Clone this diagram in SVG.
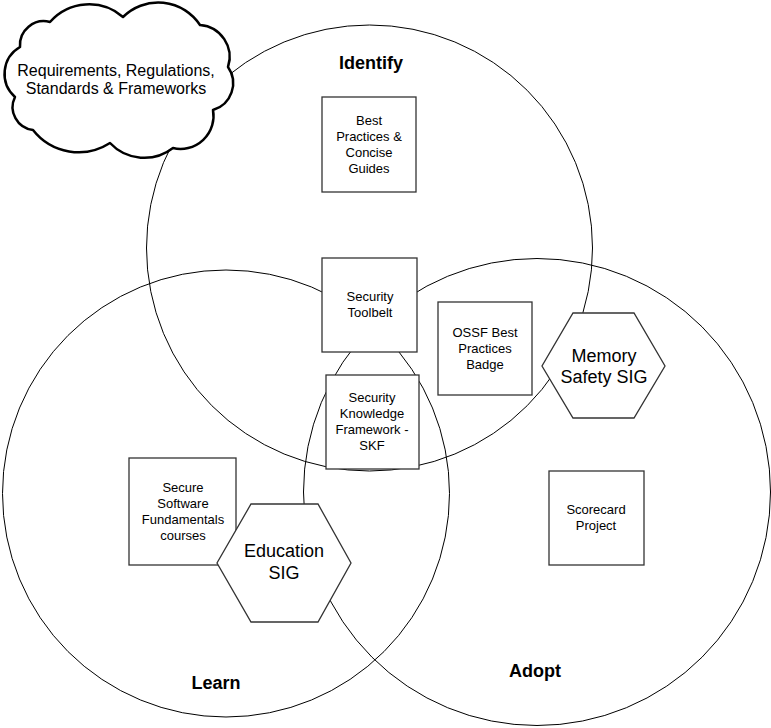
<svg xmlns="http://www.w3.org/2000/svg" width="771" height="728" viewBox="0 0 771 728">
<style>
  .ring { fill: none; stroke: #000; stroke-width: 1; }
  .box { fill: #fff; stroke: #333; stroke-width: 1.3; }
  .hex { fill: #fff; stroke: #333; stroke-width: 1.3; }
  .cloud { fill: #fff; stroke: #000; stroke-width: 2.5; stroke-linejoin: round; }
  text { font-family: "Liberation Sans", Arial, sans-serif; fill: #000; text-anchor: middle; }
  .small { font-size: 13px; }
  .mid { font-size: 18px; }
  .cl { font-size: 16px; }
  .title { font-size: 18px; font-weight: bold; }
</style>
<rect width="771" height="728" fill="#fff"/>
<g id="circle-identify">
  <circle class="ring" cx="369.5" cy="248" r="223"/>
  <text class="title" x="371" y="69">Identify</text>
</g>
<g id="circle-learn">
  <circle class="ring" cx="226" cy="493.5" r="223.5"/>
  <text class="title" x="216" y="689">Learn</text>
</g>
<g id="circle-adopt">
  <circle class="ring" cx="537" cy="492" r="233.5"/>
  <text class="title" x="535" y="677">Adopt</text>
</g>
<g id="connectors"></g>
<g id="cloud-requirements">
  <path class="cloud" d="M50,22 A52,52 0 0 1 123,17 A50,50 0 0 1 200,25 A32,32 0 0 1 228,67 A28,28 0 0 1 213,110 A33,33 0 0 1 173,148 A47,47 0 0 1 110,143 A58,58 0 0 1 33,130 A23,23 0 0 1 15,97 A31,31 0 0 1 20,47 A24,24 0 0 1 50,22 Z"/>
  <text class="cl" x="116" y="76">Requirements, Regulations,</text>
  <text class="cl" x="116" y="94">Standards &amp; Frameworks</text>
</g>
<g id="box-best-practices">
  <rect class="box" x="322" y="97" width="94" height="95"/>
  <text class="small" x="369" y="125">Best</text>
  <text class="small" x="369" y="141">Practices &amp;</text>
  <text class="small" x="369" y="157">Concise</text>
  <text class="small" x="369" y="173">Guides</text>
</g>
<g id="box-security-toolbelt">
  <rect class="box" x="322" y="258" width="95" height="94"/>
  <text class="small" x="370" y="301">Security</text>
  <text class="small" x="370" y="317">Toolbelt</text>
</g>
<g id="box-skf">
  <rect class="box" x="326" y="375" width="93" height="94"/>
  <text class="small" x="372" y="402">Security</text>
  <text class="small" x="372" y="418">Knowledge</text>
  <text class="small" x="372" y="434">Framework -</text>
  <text class="small" x="372" y="450">SKF</text>
</g>
<g id="box-ossf-badge">
  <rect class="box" x="438" y="302" width="94" height="93"/>
  <text class="small" x="485" y="337">OSSF Best</text>
  <text class="small" x="485" y="353">Practices</text>
  <text class="small" x="485" y="369">Badge</text>
</g>
<g id="box-secure-software">
  <rect class="box" x="129" y="458" width="107" height="107"/>
  <text class="small" x="183" y="492">Secure</text>
  <text class="small" x="183" y="508">Software</text>
  <text class="small" x="183" y="524">Fundamentals</text>
  <text class="small" x="183" y="540">courses</text>
</g>
<g id="box-scorecard">
  <rect class="box" x="549" y="471" width="95" height="94"/>
  <text class="small" x="596" y="514">Scorecard</text>
  <text class="small" x="596" y="530">Project</text>
</g>
<g id="hex-education-sig">
  <polygon class="hex" points="251,504 318,504 351,563 318,622 251,622 217,563"/>
  <text class="mid" x="284" y="557">Education</text>
  <text class="mid" x="284" y="579">SIG</text>
</g>
<g id="hex-memory-safety-sig">
  <polygon class="hex" points="573,313 634,313 665,366 634,418 573,418 542,366"/>
  <text class="mid" x="604" y="362">Memory</text>
  <text class="mid" x="604" y="383">Safety SIG</text>
</g>
</svg>
